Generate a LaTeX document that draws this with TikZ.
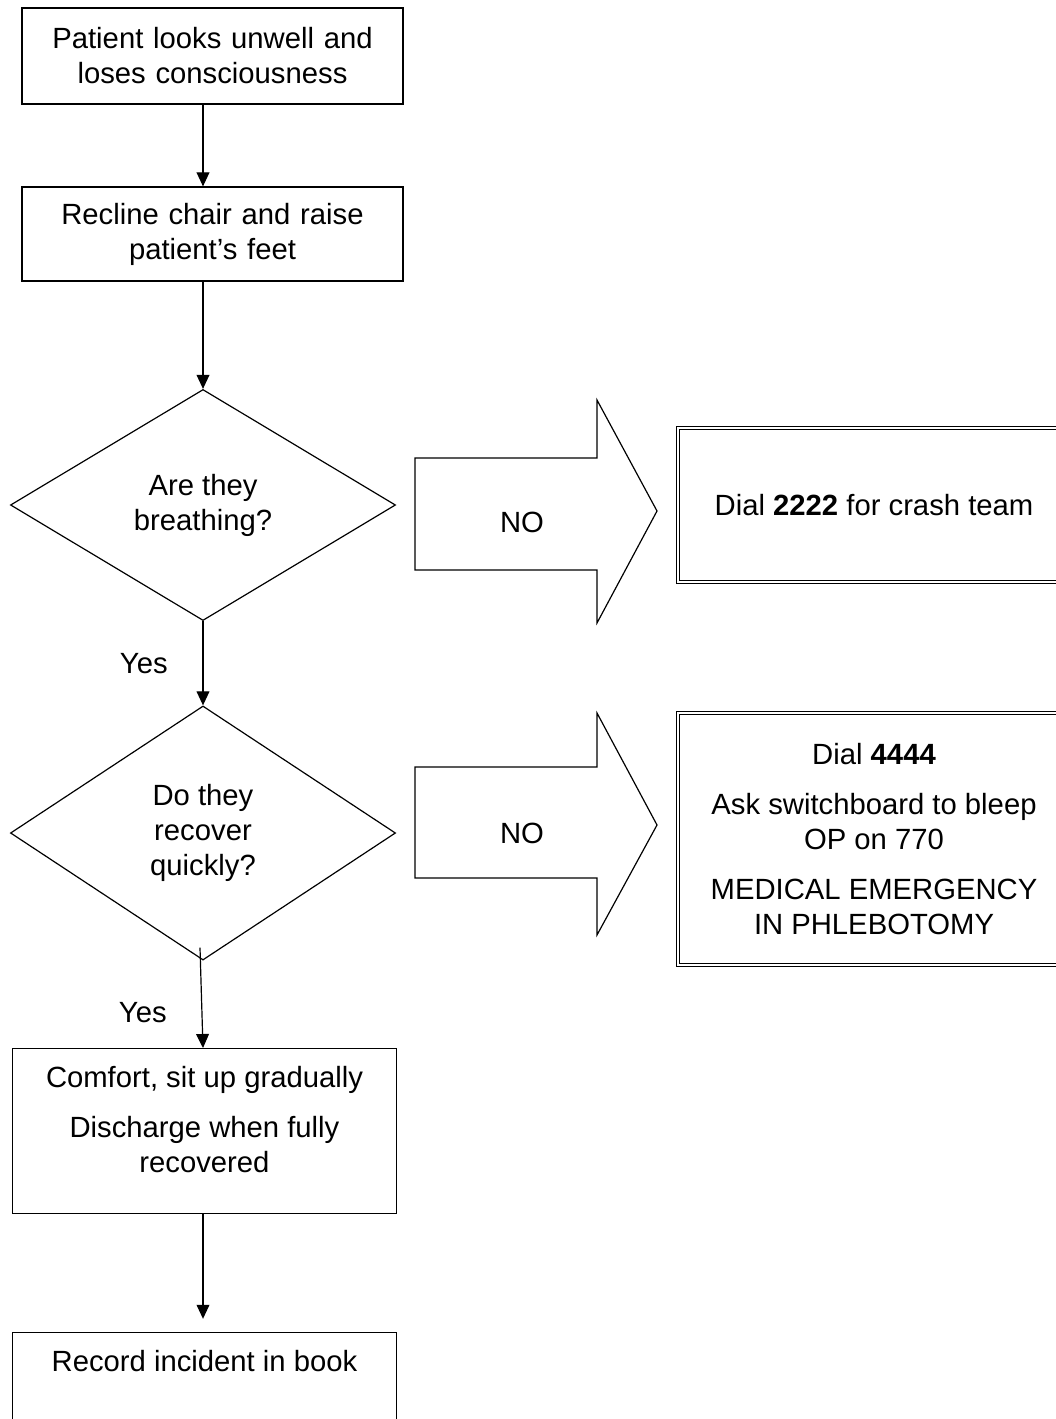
\documentclass[tikz,border=0pt]{standalone}
\usepackage{fontspec}
\setmainfont{Liberation Sans}
\usetikzlibrary{arrows.meta, positioning, shapes.geometric}
\tikzset{flow/.style={-{Triangle[length=0.35cm,width=0.32cm]}, line width=0.85pt},
    stepbox/.style={rectangle,draw,line width=0.85pt,text width=9.525cm,inner xsep=0pt,inner ysep=0pt,align=center},
    topbox/.style={rectangle,draw,line width=0.85pt,inner xsep=0pt,inner ysep=0.43cm,anchor=north},
    decision/.style={diamond,draw,line width=0.85pt,aspect=1.667,inner sep=0pt,minimum width=9.625cm,align=center},
    callbox/.style={rectangle,draw,double,double distance=1.8pt,line width=0.75pt,minimum width=9.8cm,align=center},
    bigarrow/.style={draw,line width=0.85pt},
    textnode/.style={}}
\newcommand{\toptext}[2]{\parbox[c][#1][t]{9.6cm}{\centering #2}}

\begin{document}
\begin{tikzpicture}[x=0.025cm,y=-0.025cm,font=\fontsize{20.8pt}{24.9pt}\selectfont]
\useasboundingbox (0,0) rectangle (1056,1419);
\clip (0,0) rectangle (1056,1419);

\node[stepbox,minimum height=2.4cm] (faint) at (212.5,56) {Patient looks unwell and\\loses consciousness};
\node[stepbox,minimum height=2.35cm] (recline) at (212.5,234) {Recline chair and raise\\patient’s feet};
\node[decision,minimum height=5.775cm] (breath) at (203,505) {Are they\\breathing?};
\node[decision,minimum height=6.35cm] (recover) at (203,833) {Do they\\recover\\quickly?};
\node[topbox] (comfort) at (204.5,1048) {\toptext{3.265cm}{Comfort, sit up gradually\\[0.375cm]Discharge when fully\\recovered}};
\node[topbox] (record) at (204.5,1332) {\toptext{1.84cm}{Record incident in book}};

\draw[bigarrow] (415,458) -- (597,458) -- (597,400) -- (657,511) -- (597,623) -- (597,570) -- (415,570) -- cycle;
\draw[bigarrow] (415,767) -- (597,767) -- (597,713) -- (657,825) -- (597,935) -- (597,878) -- (415,878) -- cycle;
\node[textnode] (no1) at (522,522) {NO};
\node[textnode] (no2) at (522,833) {NO};

\node[callbox,minimum height=3.85cm] (crash) at (874,505) {Dial \textbf{2222} for crash team};
\node[callbox,minimum height=6.3cm] (bleep) at (874,839) {Dial \textbf{4444}\\[0.375cm]Ask switchboard to bleep\\OP on 770\\[0.375cm]MEDICAL EMERGENCY\\IN PHLEBOTOMY};

\path
    (faint.south -| breath.north) edge[flow] (recline.north -| breath.north)
    (recline.south -| breath.north) edge[flow] (breath.north)
    (breath) edge[flow] node[left=0.75cm] {Yes} (recover)
    ([shift={(-3,-13)}]recover.south) edge[flow] node[left=0.75cm,pos=0.65] {Yes} (comfort.north -| recover.south)
    (comfort.south -| recover.south) edge[flow,shorten >=0.33cm] (record.north -| recover.south);
\end{tikzpicture}
\end{document}
